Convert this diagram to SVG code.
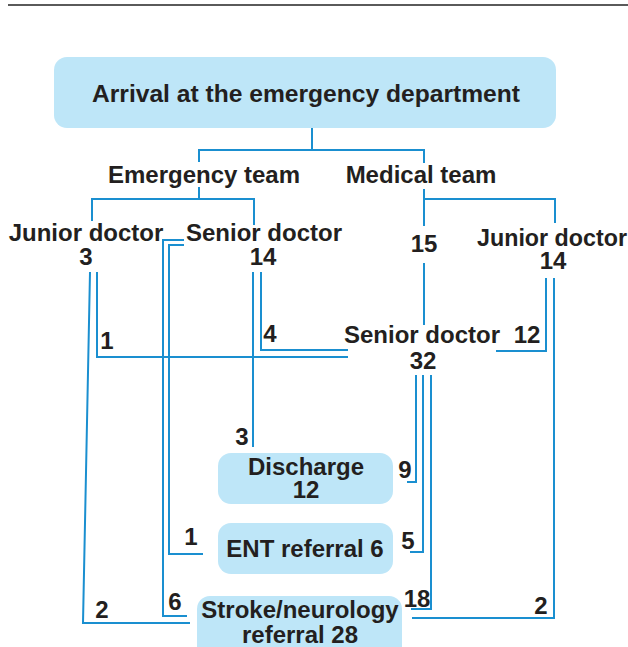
<svg xmlns="http://www.w3.org/2000/svg" width="628" height="647" viewBox="0 0 628 647">
<style>
.box{fill:#bee6f8;}
.t{font-family:"Liberation Sans",Arial,sans-serif;font-weight:bold;font-size:24px;fill:#231f20;text-anchor:middle;}
.c{fill:none;stroke:#1a8fd0;stroke-width:2;}
</style>
<rect width="628" height="647" fill="#ffffff"/>
<path d="M8 5 H628" stroke="#5a5a5a" stroke-width="2" fill="none"/>
<g id="connectors" class="c">
<path d="M312 128 V150"/>
<path d="M199 162 V150 H424 V163"/>
<path d="M199 187 V199"/>
<path d="M92 221 V199 H254 V225"/>
<path d="M424 189 V226"/>
<path d="M424 199 H555 V223"/>
<path d="M424 263 V325"/>
<path d="M90 272 L83 623 H190"/>
<path d="M97 272 V357 H348"/>
<path d="M261 272 V350 H348"/>
<path d="M253 272 V447"/>
<path d="M184 240 H163 V616 H187"/>
<path d="M184 245 H169 V554 H203"/>
<path d="M416 375 V482 H407"/>
<path d="M423 375 V552 H410"/>
<path d="M431 375 V609 H411"/>
<path d="M546 278 V351 H496"/>
<path d="M554 278 V618 H412"/>
</g>
<g id="labels">
<text class="t" x="107" y="349">1</text>
<text class="t" x="270" y="342">4</text>
<text class="t" x="242" y="445">3</text>
<text class="t" x="191" y="545">1</text>
<text class="t" x="175" y="610">6</text>
<text class="t" x="102" y="618">2</text>
<text class="t" x="405" y="478">9</text>
<text class="t" x="408" y="549">5</text>
<text class="t" x="417" y="607">18</text>
<text class="t" x="541" y="614">2</text>
<text class="t" x="527" y="343">12</text>
</g>
<g id="arrival">
<rect class="box" x="54" y="57" width="502" height="71" rx="13"/>
<text class="t" x="306" y="102" textLength="428" lengthAdjust="spacingAndGlyphs">Arrival at the emergency department</text>
</g>
<g id="emergency-team">
<text class="t" x="204" y="183">Emergency team</text>
</g>
<g id="medical-team">
<text class="t" x="421" y="183">Medical team</text>
</g>
<g id="em-junior">
<text class="t" x="86" y="241">Junior doctor</text>
<text class="t" x="86" y="265">3</text>
</g>
<g id="em-senior">
<text class="t" x="264" y="241">Senior doctor</text>
<text class="t" x="263" y="265">14</text>
</g>
<g id="med-15">
<text class="t" x="424" y="252">15</text>
</g>
<g id="med-junior">
<text class="t" x="477" y="246" style="text-anchor:start" textLength="150" lengthAdjust="spacingAndGlyphs">Junior doctor</text>
<text class="t" x="553" y="269">14</text>
</g>
<g id="med-senior">
<text class="t" x="422" y="343">Senior doctor</text>
<text class="t" x="423" y="369">32</text>
</g>
<g id="discharge">
<rect class="box" x="218" y="453" width="175" height="51" rx="13"/>
<text class="t" x="306" y="475">Discharge</text>
<text class="t" x="306" y="498">12</text>
</g>
<g id="ent">
<rect class="box" x="218" y="523" width="175" height="51" rx="13"/>
<text class="t" x="305" y="557">ENT referral 6</text>
</g>
<g id="stroke">
<rect class="box" x="197" y="596" width="205" height="70" rx="13"/>
<text class="t" x="300" y="618">Stroke/neurology</text>
<text class="t" x="300" y="643">referral 28</text>
</g>
</svg>
